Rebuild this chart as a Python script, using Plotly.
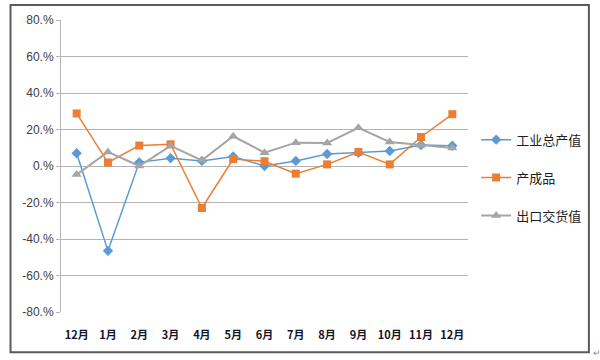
import plotly.graph_objects as go

months = ["12月", "1月", "2月", "3月", "4月", "5月", "6月", "7月", "8月", "9月", "10月", "11月", "12月"]
industrial_output = [7.0, -46.5, 2.0, 4.3, 2.8, 5.2, 0.0, 2.8, 6.6, 7.3, 8.2, 11.5, 11.1]
finished_goods = [28.8, 1.9, 11.2, 11.9, -23.0, 3.8, 2.6, -4.2, 0.9, 7.7, 0.9, 15.9, 28.4]
export_value = [-4.7, 7.7, 0.0, 11.0, 3.1, 16.3, 7.3, 12.8, 12.6, 20.9, 13.2, 11.4, 9.9]

series_names = ["工业总产值", "产成品", "出口交货值"]
y_tick_vals = [80, 60, 40, 20, 0, -20, -40, -60, -80]
y_tick_text = ["80.%", "60.%", "40.%", "20.%", "0.%", "-20.%", "-40.%", "-60.%", "-80.%"]

xs = list(range(len(months)))

fig = go.Figure()
fig.add_trace(go.Scatter(
    x=xs, y=industrial_output, name=series_names[0], mode="lines+markers",
    line=dict(color="#5B9BD5", width=1.5),
    marker=dict(symbol="diamond", size=8, color="#5B9BD5"),
    legendgroup="a"))
fig.add_trace(go.Scatter(
    x=xs, y=finished_goods, name=series_names[1], mode="lines+markers",
    line=dict(color="#ED7D31", width=1.5),
    marker=dict(symbol="square", size=8, color="#ED7D31"),
    legendgroup="b"))
fig.add_trace(go.Scatter(
    x=xs, y=export_value, name=series_names[2], mode="lines+markers",
    line=dict(color="#A5A5A5", width=2),
    marker=dict(symbol="triangle-up", size=9, color="#A5A5A5"),
    legendgroup="c"))

fig.update_layout(
    width=600, height=360,
    margin=dict(l=61, r=132, t=20, b=48, autoexpand=False),
    paper_bgcolor="white", plot_bgcolor="white",
    font=dict(family="Noto Sans CJK SC, Liberation Sans, sans-serif", color="#404040"),
    showlegend=True,
    legend=dict(
        x=1.02, xanchor="left", y=0.46, yanchor="middle",
        font=dict(size=13, color="#202020", family="Noto Sans CJK SC"),
        tracegroupgap=18, traceorder="grouped",
        itemwidth=30,
    ),
    xaxis=dict(
        range=[-0.5, len(months) - 0.5],
        tickmode="array", tickvals=xs, ticktext=["<b>%s</b>" % m for m in months],
        tickfont=dict(size=11, color="#141428", family="Noto Sans CJK SC"),
        showgrid=False, zeroline=False, showline=False, ticks="",
        ticklabelstandoff=15,
    ),
    yaxis=dict(
        range=[-80, 80],
        tickmode="array", tickvals=y_tick_vals, ticktext=y_tick_text,
        tickfont=dict(size=12, color="#404040", family="Liberation Sans"),
        showgrid=True, gridcolor="#B4B4B4", gridwidth=1,
        zeroline=False, showline=True, linecolor="#B4B4B4", linewidth=1,
        ticks="outside", ticklen=4, tickcolor="#B4B4B4",
    ),
)

# outer chart frame
fig.add_shape(type="rect", xref="paper", yref="paper",
              x0=-0.124, x1=1.297, y0=-0.138, y1=1.051,
              line=dict(color="#5A5A5A", width=2), fillcolor="rgba(0,0,0,0)", layer="above")
fig.add_annotation(text="↵", xref="paper", yref="paper", x=1.302, y=-0.138,
                   showarrow=False, font=dict(size=9, color="#909090"),
                   xanchor="left", yanchor="middle")

fig.write_html("out.html", config={"displayModeBar": False},
               post_script="document.body.style.margin='0';document.body.style.overflow='hidden';")
